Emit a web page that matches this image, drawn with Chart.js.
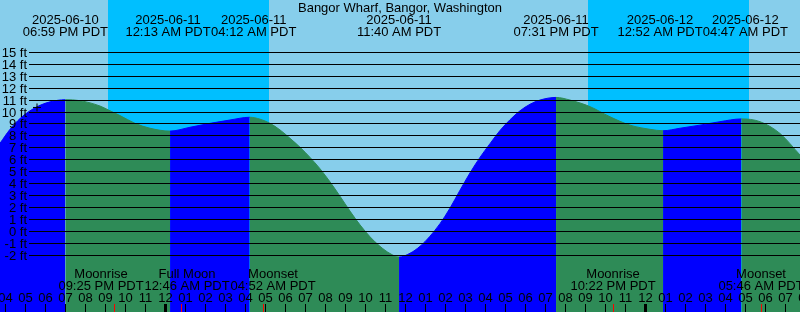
<!DOCTYPE html>
<html>
<head>
<meta charset="utf-8">
<script src="https://cdn.jsdelivr.net/npm/chart.js@4/dist/chart.umd.min.js"></script>
<style>
  html, body { margin: 0; padding: 0; background: #87ceeb; }
  canvas { display: block; }
</style>
</head>
<body>
<canvas id="tideChart" width="800" height="312"></canvas>
<script>
// all times are hours counted from 2025-06-10 00:00 PDT
const tideHours = [
  15.715, 16.215, 16.715, 17.215, 17.715, 18.215, 18.983, 19.715, 20.715, 21.215,
  21.715, 22.465, 23.215, 24.217, 25.215, 26.215, 27.215, 28.200, 28.715, 29.215,
  29.715, 30.215, 30.715, 31.215, 31.715, 32.215, 32.715, 33.215, 33.715, 34.215,
  34.715, 35.215, 35.667, 36.215, 36.715, 37.215, 37.715, 38.215, 38.715, 39.215,
  39.715, 40.215, 40.715, 41.215, 41.715, 42.215, 42.715, 43.517, 44.215, 45.215,
  46.215, 47.215, 48.215, 48.867, 49.715, 50.715, 51.715, 52.783, 53.715, 54.715,
  55.715
];
const tideFeet = [
  7.38, 8.55, 9.45, 10.10, 10.56, 10.85, 11.03, 10.95, 10.50, 10.10,
  9.70, 9.05, 8.64, 8.40, 8.72, 9.05, 9.33, 9.56, 9.40, 9.05,
  8.50, 7.80, 7.05, 6.20, 5.25, 4.15, 2.95, 1.70, 0.55, -0.45,
  -1.25, -1.85, -2.15, -1.83, -1.25, -0.40, 0.65, 1.95, 3.45, 4.90,
  6.20, 7.35, 8.45, 9.35, 10.10, 10.65, 11.00, 11.22, 11.00, 10.45,
  9.60, 8.90, 8.55, 8.43, 8.64, 8.90, 9.19, 9.42, 9.19, 8.20,
  6.40
];

const extremeHours = [18.983, 24.217, 28.200, 35.667, 43.517, 48.867, 52.783];
const extremeDates = ['2025-06-10', '2025-06-11', '2025-06-11', '2025-06-11', '2025-06-11', '2025-06-12', '2025-06-12'];
const extremeTimes = ['06:59 PM PDT', '12:13 AM PDT', '04:12 AM PDT', '11:40 AM PDT', '07:31 PM PDT', '12:52 AM PDT', '04:47 AM PDT'];
const extremeLabelNudge = [0, -2, 4, 0, 0, -3, 4]; // px, crowded labels pushed apart

const nightStart = [21.10, 45.12];
const nightEnd = [29.14, 53.15];

const moonHours = [21.417, 24.767, 28.867, 46.367, 53.767];
const moonNames = ['Moonrise', 'Full Moon', 'Moonset', 'Moonrise', 'Moonset'];
const moonTimes = ['09:25 PM PDT', '12:46 AM PDT', '04:52 AM PDT', '10:22 PM PDT', '05:46 AM PDT'];
const moonLabelNudge = [-13, 6, 10, 0, 0]; // px, same idea

const hourTicks = [16, 17, 18, 19, 20, 21, 22, 23, 24, 25, 26, 27, 28, 29, 30, 31, 32, 33, 34, 35,
  36, 37, 38, 39, 40, 41, 42, 43, 44, 45, 46, 47, 48, 49, 50, 51, 52, 53, 54, 55, 56];
const hourLabels = ['04', '05', '06', '07', '08', '09', '10', '11', '12', '01', '02', '03', '04', '05', '06', '07',
  '08', '09', '10', '11', '12', '01', '02', '03', '04', '05', '06', '07', '08', '09', '10', '11',
  '12', '01', '02', '03', '04', '05', '06', '07', '08'];

const footTicks = [15, 14, 13, 12, 11, 10, 9, 8, 7, 6, 5, 4, 3, 2, 1, 0, -1, -2];
const footLabels = ['15 ft', '14 ft', '13 ft', '12 ft', '11 ft', '10 ft', '9 ft', '8 ft', '7 ft', '6 ft',
  '5 ft', '4 ft', '3 ft', '2 ft', '1 ft', '0 ft', '-1 ft', '-2 ft'];

const markHour = [17.565];
const markFeet = [10.38];

const SKY = '#87ceeb';
const NIGHT = '#00bfff';
const RISING = '#0000ff';
const FALLING = '#2e8b57';
const FONT = '13px "Liberation Sans", Arial, sans-serif';

const tidePoints = tideHours.map((h, i) => ({ x: h, y: tideFeet[i] }));
const markPoints = markHour.map((h, i) => ({ x: h, y: markFeet[i] }));

function segColor(c) {
  return c.p1.parsed.y > c.p0.parsed.y ? RISING : FALLING;
}

const tidePainter = {
  id: 'tidePainter',
  beforeDatasetsDraw(chart) {
    const { ctx, chartArea: a, scales: { x } } = chart;
    ctx.save();
    ctx.fillStyle = SKY;
    ctx.fillRect(0, 0, chart.width, chart.height);
    ctx.fillStyle = NIGHT;
    nightStart.forEach((s, i) => {
      const x0 = Math.round(x.getPixelForValue(s));
      const x1 = Math.round(x.getPixelForValue(nightEnd[i]));
      ctx.fillRect(x0, a.top, x1 - x0, a.bottom - a.top);
    });
    ctx.restore();
  },
  afterDatasetsDraw(chart) {
    const { ctx, chartArea: a, scales: { x, y } } = chart;
    ctx.save();
    ctx.fillStyle = '#000';
    ctx.font = FONT;

    // foot lines + labels
    ctx.textAlign = 'right';
    footTicks.forEach((v, i) => {
      const py = Math.floor(y.getPixelForValue(v));
      ctx.fillRect(29, py, a.right - 29, 1);
      ctx.fillText(footLabels[i], 27, py + 5);
    });

    // title and high/low labels
    ctx.textAlign = 'center';
    ctx.fillText('Bangor Wharf, Bangor, Washington', 400, 12);
    extremeHours.forEach((h, i) => {
      const px = x.getPixelForValue(h) + extremeLabelNudge[i];
      ctx.fillText(extremeDates[i], px, 24);
      ctx.fillText(extremeTimes[i], px, 36);
    });

    // moon events
    moonHours.forEach((h, i) => {
      const px = x.getPixelForValue(h) + moonLabelNudge[i];
      ctx.fillText(moonNames[i], px, 278);
      ctx.fillText(moonTimes[i], px, 290);
    });

    // hour ticks
    hourTicks.forEach((h, i) => {
      const px = Math.floor(x.getPixelForValue(h));
      ctx.fillText(hourLabels[i], px + 0.5, 302);
      if (h % 24 === 0) ctx.fillRect(px - 1, 304, 3, 8);
      else ctx.fillRect(px, 304, 1, 8);
    });
    ctx.fillStyle = '#ff0000';
    moonHours.forEach(h => {
      const px = Math.floor(x.getPixelForValue(h));
      ctx.fillRect(px, 304, 1, 8);
    });
    ctx.restore();
  }
};

new Chart(document.getElementById('tideChart'), {
  type: 'line',
  data: {
    datasets: [
      {
        data: markPoints,
        showLine: false,
        pointStyle: 'cross',
        pointRadius: 4,
        borderColor: '#000',
        pointBorderColor: '#000',
        borderWidth: 1,
        fill: false,
        clip: false,
        order: 0
      },
      {
        data: tidePoints,
        fill: 'start',
        cubicInterpolationMode: 'monotone',
        pointRadius: 0,
        borderWidth: 1,
        borderColor: FALLING,
        backgroundColor: FALLING,
        segment: { borderColor: segColor, backgroundColor: segColor },
        order: 1
      }
    ]
  },
  options: {
    responsive: false,
    animation: false,
    events: [],
    layout: { padding: 0, autoPadding: false },
    plugins: { legend: { display: false }, tooltip: { enabled: false } },
    scales: {
      x: { type: 'linear', min: 15.715, max: 55.715, display: false },
      y: { type: 'linear', min: -6.749, max: 19.380, display: false }
    }
  },
  plugins: [tidePainter]
});
</script>
</body>
</html>
